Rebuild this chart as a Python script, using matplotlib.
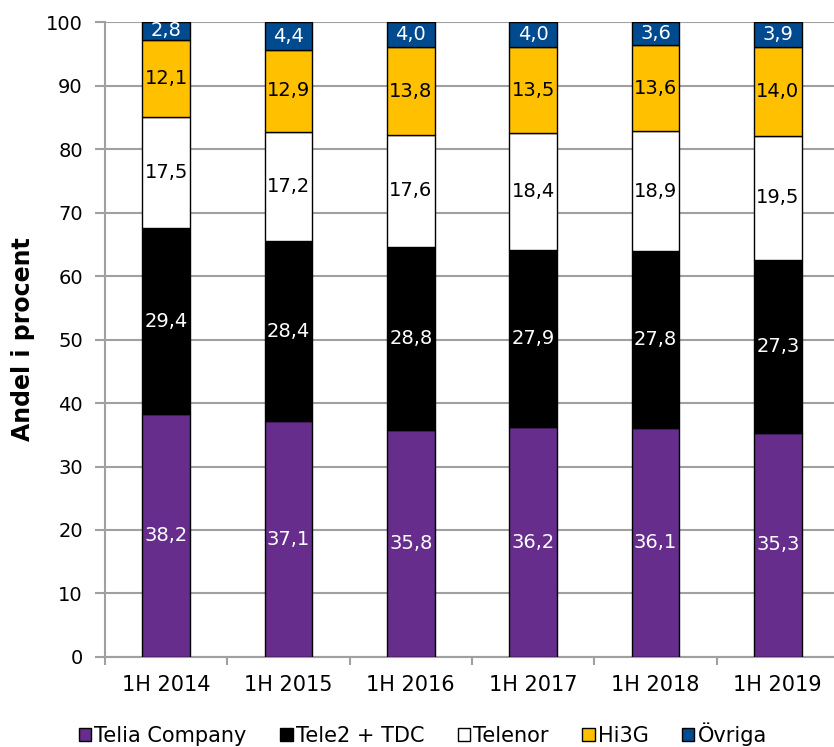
import matplotlib.pyplot as plt
import numpy as np

years = ["1H 2014", "1H 2015", "1H 2016", "1H 2017", "1H 2018", "1H 2019"]
telia = [38.2, 37.1, 35.8, 36.2, 36.1, 35.3]
tele2 = [29.4, 28.4, 28.8, 27.9, 27.8, 27.3]
telenor = [17.5, 17.2, 17.6, 18.4, 18.9, 19.5]
hi3g = [12.1, 12.9, 13.8, 13.5, 13.6, 14.0]
ovriga = [2.8, 4.4, 4.0, 4.0, 3.6, 3.9]

series = [("Telia Company", telia, "#662D8C", "white"),
          ("Tele2 + TDC", tele2, "#000000", "white"),
          ("Telenor", telenor, "#FFFFFF", "black"),
          ("Hi3G", hi3g, "#FFC000", "black"),
          ("Övriga", ovriga, "#004A8F", "white")]

plt.rcParams['font.family'] = 'DejaVu Sans'
fig = plt.figure(figsize=(8.34, 7.47), dpi=100)
ax = fig.add_axes([0.1259, 0.1205, 0.880, 0.850])

x = np.arange(len(years))
bottom = np.zeros(len(years))
for name, vals, col, tcol in series:
    vals = np.array(vals)
    ax.bar(x, vals, 0.39, bottom=bottom, color=col, edgecolor="black",
           linewidth=1, label=name, zorder=3)
    for xi, b, v in zip(x, bottom, vals):
        ax.text(xi, b + v / 2, f"{v:.1f}".replace(".", ","), ha="center",
                va="center", color=tcol, fontsize=14, zorder=4)
    bottom += vals

ax.set_xlim(-0.5, len(years) - 0.5)
ax.set_ylim(0, 100)
ax.set_yticks(range(0, 101, 10))
ax.yaxis.grid(True, color="#A0A0A0", linewidth=1.5, zorder=0)
ax.set_axisbelow(True)
ax.set_xticks(x)
ax.set_xticklabels(years, fontsize=15)
ax.set_xticks(np.arange(-0.5, len(years), 1), minor=True)
ax.tick_params(axis="x", which="major", length=0, pad=13)
ax.tick_params(axis="x", which="minor", length=6, color="#A0A0A0", width=1.5)
ax.tick_params(axis="y", labelsize=14, length=7, color="#A0A0A0", width=1.5, pad=9)
for s in ["top", "right"]:
    ax.spines[s].set_visible(False)
for s in ["left", "bottom"]:
    ax.spines[s].set_color("#A0A0A0")
    ax.spines[s].set_linewidth(1.5)

ax.set_ylabel("Andel i procent", fontsize=17, fontweight="bold", labelpad=8)

fig.legend(loc="center", bbox_to_anchor=(0.507, 0.017), ncol=5, frameon=False,
           fontsize=15, handlelength=0.6, handleheight=0.6, handletextpad=0.15,
           columnspacing=1.6, borderpad=0)

fig.savefig("out.png", dpi=100)
